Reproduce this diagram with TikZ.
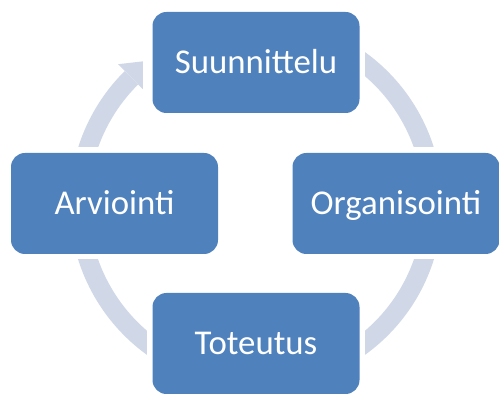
\documentclass[tikz,border=0pt]{standalone}
\usepackage{fontspec}
\setmainfont{Carlito}
\usetikzlibrary{calc}
\definecolor{boxblue}{HTML}{4F81BD}
\definecolor{ringcol}{HTML}{D0D8E8}
\begin{document}
\begin{tikzpicture}[x=1pt,y=1pt,
  stepbox/.style={fill=boxblue, draw=none, rounded corners=14pt, minimum width=207pt, minimum height=101pt, inner sep=0pt, text=white, font=\fontsize{34.8}{42}\selectfont, text height=22pt, text depth=0pt},
  knock/.style={fill=white, draw=none},
  ring/.style={draw=ringcol, line width=19pt}]
\useasboundingbox (0,0) rectangle (499,394);
\coordinate (c) at (256,190.5);
% continuous cycle ring with arrowhead
\draw[ring] ($(c)+(70:177)$) arc[start angle=70, end angle=-225.3, radius=177];
\fill[ringcol] ($(c)+(134.7:196)$) -- ($(c)+(126:177)$) -- ($(c)+(134.7:158)$) -- cycle;
% knockouts around the boxes
\fill[knock] (143,275) rectangle (365,388);
\fill[knock] (286.5,134.5) rectangle (505,246.5);
\fill[knock] (5,134.5) rectangle (224,246.5);
\fill[knock] (147,-6) rectangle (365,106);
% boxes
\node[stepbox] (s) at (256,331.5) {Suunnittelu};
\node[stepbox] (o) at (396,190.5) {Organisointi};
\node[stepbox] (t) at (256,50.5) {Toteutus};
\node[stepbox] (a) at (114.5,190.5) {Arviointi};
\end{tikzpicture}
\end{document}
